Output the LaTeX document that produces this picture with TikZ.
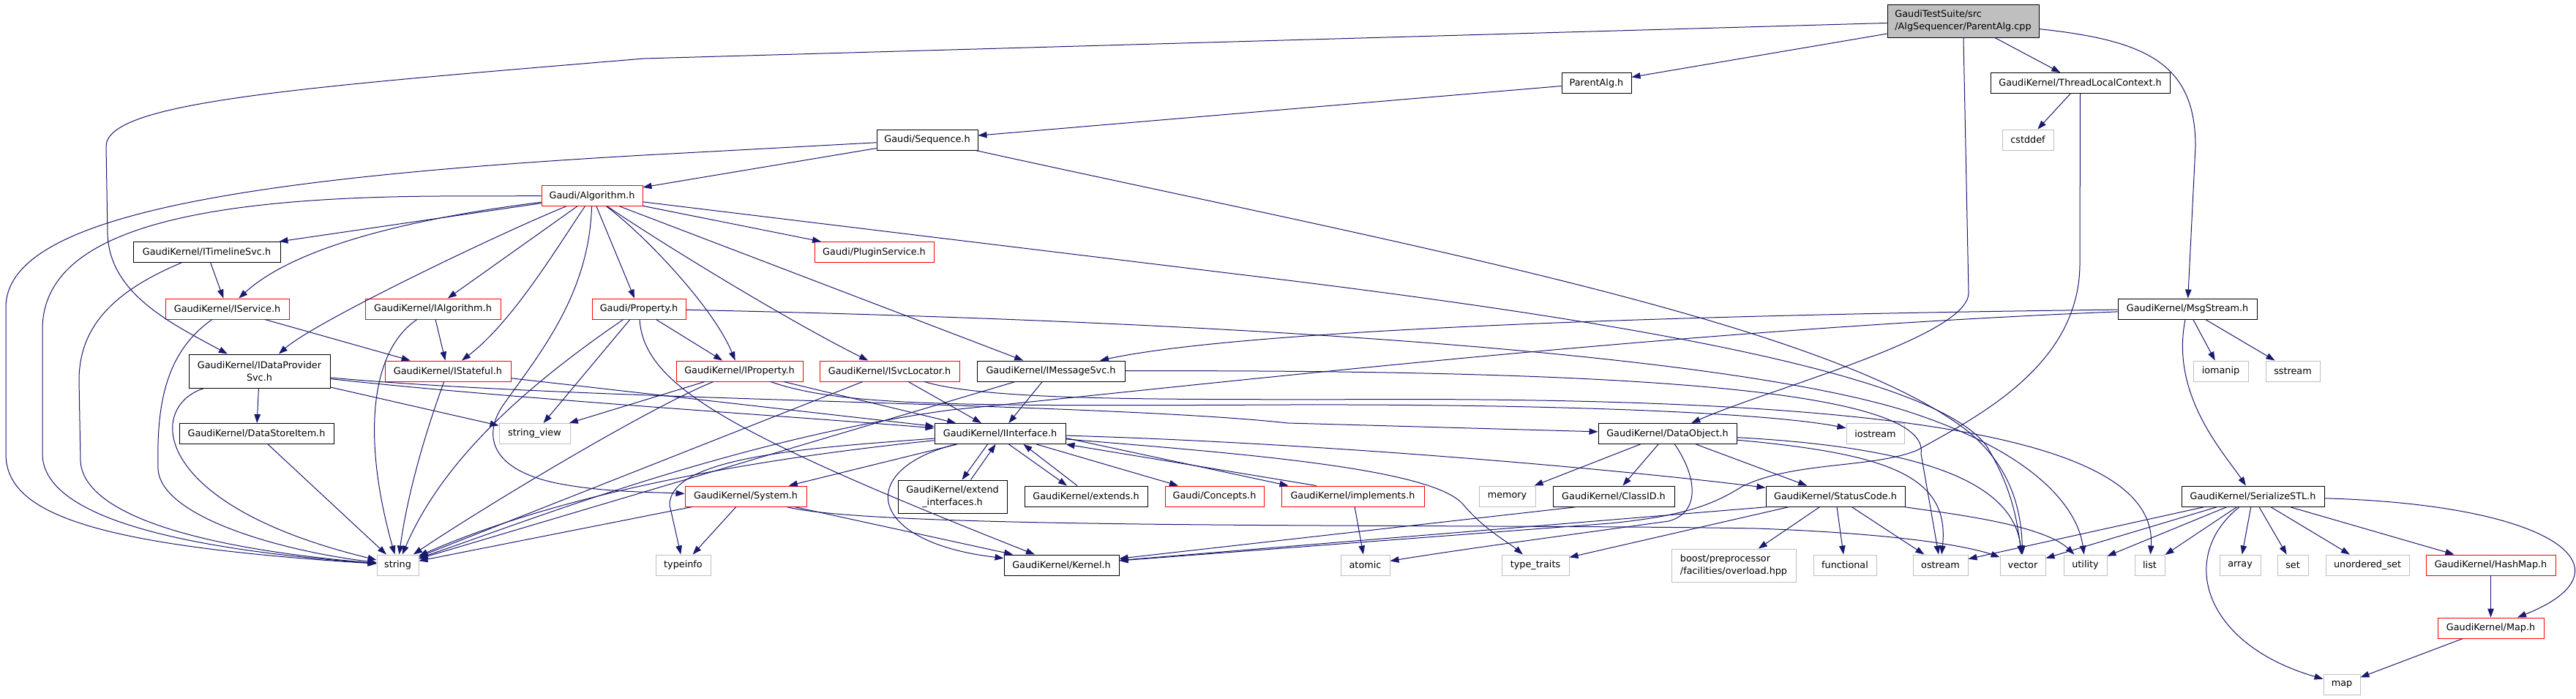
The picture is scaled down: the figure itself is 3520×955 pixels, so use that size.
\documentclass[tikz,border=0pt]{standalone}
\usepackage{fontspec}
\setmainfont{DejaVu Sans}
\usetikzlibrary{arrows.meta}
\definecolor{edgec}{HTML}{191970}
\definecolor{grayb}{HTML}{BFBFBF}
\definecolor{redb}{HTML}{FF0000}
\begin{document}
\begin{tikzpicture}[x=1pt, y=-1pt,
  font=\fontsize{12.8pt}{17pt}\selectfont,
  box/.style={rectangle, inner sep=0pt, line width=0.95pt, fill=white, minimum height=28pt},
  nb/.style={box, draw=black},
  nr/.style={box, draw=redb},
  ng/.style={box, draw=grayb},
  ntop/.style={box, draw=black, fill=grayb},
  edg/.style={draw=edgec, line width=1pt, -{Triangle[length=12pt,width=8.5pt]}}]
\fill[white] (0,0) rectangle (3520,955);
\useasboundingbox (0,0) rectangle (3520,955);

% ---------------- nodes ----------------
\node[ntop, minimum width=207pt, minimum height=45pt, align=left] (top) at (2682.5,28.5) {GaudiTestSuite/src\\/AlgSequencer/ParentAlg.cpp};
\node[nb, minimum width=95pt] (parentalg) at (2181.5,113.5) {ParentAlg.h};
\node[nb, minimum width=245pt] (tlc) at (2842.5,113.5) {GaudiKernel/ThreadLocalContext.h};
\node[ng, minimum width=70pt] (cstddef) at (2771,191) {cstddef};
\node[nb, minimum width=138pt] (sequence) at (1267,191) {Gaudi/Sequence.h};
\node[nr, minimum width=138pt] (algorithm) at (809,267.5) {Gaudi/Algorithm.h};
\node[nb, minimum width=201pt] (timeline) at (282.5,344.5) {GaudiKernel/ITimelineSvc.h};
\node[nr, minimum width=163pt] (pluginsvc) at (1194.5,344.5) {Gaudi/PluginService.h};
\node[nr, minimum width=169pt] (iservice) at (310.5,422) {GaudiKernel/IService.h};
\node[nr, minimum width=185pt] (ialgorithm) at (591.5,422) {GaudiKernel/IAlgorithm.h};
\node[nr, minimum width=128pt] (property) at (873,422) {Gaudi/Property.h};
\node[nb, minimum width=190pt] (msgstream) at (2989,422) {GaudiKernel/MsgStream.h};
\node[nb, minimum width=193pt, minimum height=46pt, align=center] (idps) at (354.5,507) {GaudiKernel/IDataProvider\\Svc.h};
\node[nr, minimum width=172pt] (istateful) at (612,507) {GaudiKernel/IStateful.h};
\node[nr, minimum width=173pt] (iproperty) at (1010.5,507) {GaudiKernel/IProperty.h};
\node[nr, minimum width=191pt] (isvclocator) at (1215.5,507) {GaudiKernel/ISvcLocator.h};
\node[nb, minimum width=202pt] (imessagesvc) at (1436,507) {GaudiKernel/IMessageSvc.h};
\node[ng, minimum width=75pt] (iomanip) at (3034.5,507) {iomanip};
\node[ng, minimum width=74pt] (sstream) at (3133,507) {sstream};
\node[nb, minimum width=211pt] (datastoreitem) at (350.5,592.5) {GaudiKernel/DataStoreItem.h};
\node[ng, minimum width=97pt] (stringview) at (730.5,592.5) {string\_view};
\node[nb, minimum width=179pt] (iinterface) at (1366.5,592.5) {GaudiKernel/IInterface.h};
\node[nb, minimum width=189pt] (dataobject) at (2278.5,592.5) {GaudiKernel/DataObject.h};
\node[ng, minimum width=79pt] (iostream) at (2562.5,592.5) {iostream};
\node[nr, minimum width=166pt] (system) at (1019,678) {GaudiKernel/System.h};
\node[nb, minimum width=149pt, minimum height=45pt, align=center] (extendif) at (1301.5,678.5) {GaudiKernel/extend\\\_interfaces.h};
\node[nb, minimum width=168pt] (extends) at (1484,678) {GaudiKernel/extends.h};
\node[nr, minimum width=135pt] (concepts) at (1659.5,678) {Gaudi/Concepts.h};
\node[nr, minimum width=195pt] (implements) at (1848.5,678) {GaudiKernel/implements.h};
\node[ng, minimum width=77pt] (memory) at (2059.5,678) {memory};
\node[nb, minimum width=166pt] (classid) at (2205,678) {GaudiKernel/ClassID.h};
\node[nb, minimum width=190pt] (statuscode) at (2508,678) {GaudiKernel/StatusCode.h};
\node[nb, minimum width=195pt] (serializestl) at (3078.5,678) {GaudiKernel/SerializeSTL.h};
\node[ng, minimum width=57pt] (string) at (543.5,772) {string};
\node[ng, minimum width=75pt] (typeinfo) at (933.5,772) {typeinfo};
\node[nb, minimum width=157pt] (kernel) at (1450.5,772) {GaudiKernel/Kernel.h};
\node[ng, minimum width=67pt] (atomic) at (1865.5,772) {atomic};
\node[ng, minimum width=92pt] (typetraits) at (2098,772) {type\_traits};
\node[ng, minimum width=170pt, minimum height=45pt, align=left] (boost) at (2369,772.5) {boost/preprocessor\\/facilities/overload.hpp};
\node[ng, minimum width=86pt] (functional) at (2521,772) {functional};
\node[ng, minimum width=75pt] (ostream) at (2651.5,772) {ostream};
\node[ng, minimum width=62pt] (vector) at (2764,772) {vector};
\node[ng, minimum width=59pt] (utility) at (2849.5,772) {utility};
\node[ng, minimum width=41pt] (list) at (2937.5,772) {list};
\node[ng, minimum width=56pt] (array) at (3061,772) {array};
\node[ng, minimum width=42pt] (set) at (3133,772) {set};
\node[ng, minimum width=114pt] (unorderedset) at (3235,772) {unordered\_set};
\node[nr, minimum width=177pt] (hashmap) at (3403.5,772) {GaudiKernel/HashMap.h};
\node[nr, minimum width=145pt] (maph) at (3403.5,858) {GaudiKernel/Map.h};
\node[ng, minimum width=50pt] (map) at (3200,935) {map};

% ---------------- edges ----------------
% ParentAlg.cpp
\draw[edg] (top) -- (parentalg);
\draw[edg] (top) -- (tlc);
\draw[edg] (top) .. controls (2930,55) and (3000,85) .. (3000,200) -- (msgstream);
\draw[edg] (top) -- (2690,400) .. controls (2690,460) and (2420,530) .. (dataobject);
\draw[edg] (top) -- (880,80) .. controls (400,120) and (145,140) .. (145,200) -- (147,320) .. controls (150,400) and (230,440) .. (idps);
% ParentAlg.h
\draw[edg] (parentalg) -- (sequence);
% ThreadLocalContext.h
\draw[edg] (tlc) -- (cstddef);
\draw[edg] (tlc) -- (2842,360) .. controls (2842,500) and (2700,570) .. (2620,615) .. controls (2560,640) and (2450,630) .. (2380,665) .. controls (2340,690) and (2300,705) .. (2200,715) -- (kernel);
% Sequence.h
\draw[edg] (sequence) -- (algorithm);
\draw[edg] (sequence) -- (880,212) .. controls (300,245) and (8,300) .. (8,420) -- (8,620) .. controls (8,700) and (120,745) .. (string);
\draw[edg] (sequence) .. controls (1900,330) and (2500,440) .. (2690,590) .. controls (2750,640) and (2762,700) .. (vector);
% Algorithm.h
\draw[edg] (algorithm) -- (600,268) .. controls (250,270) and (58,320) .. (58,450) -- (58,620) .. controls (58,700) and (220,748) .. (string);
\draw[edg] (algorithm) -- (1760,383) .. controls (2300,450) and (2650,520) .. (2715,610) .. controls (2745,660) and (2755,700) .. (vector);
\draw[edg] (algorithm) -- (timeline);
\draw[edg] (algorithm) .. controls (550,300) and (400,340) .. (iservice);
\draw[edg] (algorithm) .. controls (680,320) and (430,440) .. (idps);
\draw[edg] (algorithm) -- (ialgorithm);
\draw[edg] (algorithm) .. controls (760,340) and (700,440) .. (istateful);
\draw[edg] (algorithm) .. controls (805,400) and (740,480) .. (690,550) .. controls (660,590) and (665,640) .. (760,660) .. controls (820,672) and (880,672) .. (system);
\draw[edg] (algorithm) -- (property);
\draw[edg] (algorithm) .. controls (880,320) and (975,420) .. (iproperty);
\draw[edg] (algorithm) .. controls (900,330) and (1080,440) .. (isvclocator);
\draw[edg] (algorithm) -- (imessagesvc);
\draw[edg] (algorithm) -- (pluginsvc);
% ITimelineSvc.h
\draw[edg] (timeline) -- (iservice);
\draw[edg] (timeline) .. controls (150,400) and (108,450) .. (108,520) -- (110,630) .. controls (114,700) and (260,748) .. (string);
% IService.h
\draw[edg] (iservice) -- (istateful);
\draw[edg] (iservice) .. controls (225,482) and (214,555) .. (216,640) .. controls (218,705) and (380,752) .. (string);
% IAlgorithm.h
\draw[edg] (ialgorithm) -- (istateful);
\draw[edg] (ialgorithm) .. controls (505,480) and (495,600) .. (string);
% IStateful.h
\draw[edg] (istateful) -- (iinterface);
\draw[edg] (istateful) .. controls (578,600) and (556,680) .. (string);
% Property.h
\draw[edg] (property) -- (iproperty);
\draw[edg] (property) .. controls (700,540) and (600,640) .. (string);
\draw[edg] (property) -- (stringview);
\draw[edg] (property) .. controls (880,525) and (990,590) .. (kernel);
\draw[edg] (property) .. controls (1500,435) and (2300,470) .. (2600,560) .. controls (2790,620) and (2840,700) .. (utility);
% IDataProviderSvc.h
\draw[edg] (idps) -- (datastoreitem);
\draw[edg] (idps) .. controls (200,555) and (205,690) .. (string);
\draw[edg] (idps) -- (stringview);
\draw[edg] (idps) .. controls (700,545) and (1100,570) .. (iinterface);
\draw[edg] (idps) .. controls (800,548) and (1500,550) .. (1760,578) -- (dataobject);
% DataStoreItem.h
\draw[edg] (datastoreitem) -- (string);
% IProperty.h
\draw[edg] (iproperty) -- (iinterface);
\draw[edg] (iproperty) .. controls (880,560) and (650,700) .. (string);
\draw[edg] (iproperty) -- (stringview);
\draw[edg] (iproperty) .. controls (1150,555) and (1300,555) .. (1760,553) .. controls (2150,552) and (2420,565) .. (iostream);
% ISvcLocator.h
\draw[edg] (isvclocator) -- (iinterface);
\draw[edg] (isvclocator) -- (string);
\draw[edg] (isvclocator) .. controls (1350,548) and (1600,545) .. (1800,546) .. controls (2550,540) and (2950,590) .. (list);
% IMessageSvc.h
\draw[edg] (imessagesvc) -- (iinterface);
\draw[edg] (imessagesvc) -- (string);
\draw[edg] (imessagesvc) .. controls (2200,505) and (2640,530) .. (2625,620) -- (ostream);
% MsgStream.h
\draw[edg] (msgstream) .. controls (2300,430) and (1700,450) .. (imessagesvc);
\draw[edg] (msgstream) .. controls (2300,450) and (1700,520) .. (1300,560) .. controls (1000,600) and (700,720) .. (string);
\draw[edg] (msgstream) -- (iomanip);
\draw[edg] (msgstream) -- (sstream);
\draw[edg] (msgstream) .. controls (2965,540) and (3040,620) .. (serializestl);
% IInterface.h
\draw[edg] (iinterface) -- (system);
\draw[edg] (iinterface) .. controls (1170,640) and (1180,740) .. (kernel);
\draw[edg] ([xshift=-17pt]iinterface.south) -- ([xshift=13pt]extendif.north);
\draw[edg] ([xshift=25pt]extendif.north) -- ([xshift=-6pt]iinterface.south);
\draw[edg] ([xshift=12pt]iinterface.south) -- ([xshift=-26pt]extends.north);
\draw[edg] ([xshift=-12pt]extends.north) -- ([xshift=32pt]iinterface.south);
\draw[edg] (iinterface) -- (concepts);
\draw[edg] ([yshift=-6pt]iinterface.east) -- ([xshift=10pt]implements.north west);
\draw[edg] ([xshift=48pt]implements.north west) -- (iinterface.south east);
\draw[edg] (iinterface) .. controls (1800,605) and (2200,640) .. (statuscode);
\draw[edg] (iinterface) .. controls (1700,620) and (1960,640) .. (2000,690) .. controls (2030,725) and (2060,740) .. (typetraits);
\draw[edg] (iinterface) .. controls (1100,612) and (915,625) .. (915,690) -- (typeinfo);
\draw[edg] (iinterface) .. controls (1100,620) and (800,660) .. (string);
% implements.h
\draw[edg] (implements) -- (atomic);
% System.h
\draw[edg] (system) -- (kernel);
\draw[edg] (system) -- (typeinfo);
\draw[edg] (system) -- (string);
\draw[edg] (system) .. controls (1200,725) and (2000,715) .. (2400,722) .. controls (2620,730) and (2700,750) .. (vector);
% DataObject.h
\draw[edg] (dataobject) -- (classid);
\draw[edg] (dataobject) -- (memory);
\draw[edg] (dataobject) -- (statuscode);
\draw[edg] (dataobject) .. controls (2318,650) and (2325,700) .. (2280,712) .. controls (2150,730) and (2000,750) .. (atomic);
\draw[edg] (dataobject) .. controls (2580,620) and (2665,650) .. (ostream);
\draw[edg] (dataobject) .. controls (2600,610) and (2750,650) .. (vector);
% ClassID.h
\draw[edg] ([xshift=34pt]classid.south west) -- (kernel);
% StatusCode.h
\draw[edg] ([xshift=4pt]statuscode.south west) -- (kernel);
\draw[edg] (statuscode) -- (typetraits);
\draw[edg] (statuscode) -- (boost);
\draw[edg] (statuscode) -- (functional);
\draw[edg] (statuscode) -- (ostream);
\draw[edg] (statuscode) .. controls (2650,700) and (2790,715) .. (utility);
% SerializeSTL.h
\draw[edg] (serializestl) -- (ostream);
\draw[edg] (serializestl) -- (vector);
\draw[edg] (serializestl) -- (utility);
\draw[edg] (serializestl) -- (list);
\draw[edg] (serializestl) -- (array);
\draw[edg] (serializestl) -- (set);
\draw[edg] (serializestl) -- (unorderedset);
\draw[edg] (serializestl) -- (hashmap);
\draw[edg] (serializestl) .. controls (2975,760) and (3010,880) .. (map);
\draw[edg] (serializestl) .. controls (3500,690) and (3600,780) .. (maph);
% HashMap.h / Map.h
\draw[edg] (hashmap) -- (maph);
\draw[edg] (maph) -- (map);
\end{tikzpicture}
\end{document}
